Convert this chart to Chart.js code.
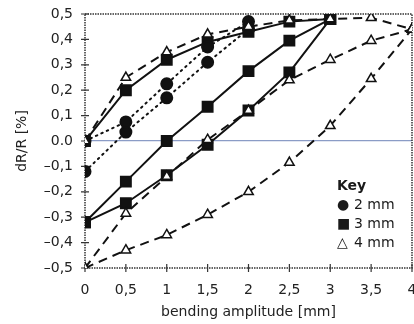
<!DOCTYPE html>
<html>
<head>
<meta charset="utf-8">
<script src="https://cdn.jsdelivr.net/npm/chart.js@4/dist/chart.umd.min.js"></script>
<style>
  html, body { margin: 0; padding: 0; background: #fff; overflow: hidden; }
  #wrap { position: relative; width: 414px; height: 324px; overflow: hidden; }
  #key { position: absolute; left: 337px; top: 176px; font: 14px "DejaVu Sans", sans-serif; color: #1a1a1a; line-height: 19px; }
  #key b { display: block; font-weight: bold; }
  #key span.s { display: inline-block; width: 17px; text-align: left; }
</style>
</head>
<body>
<div id="wrap">
  <canvas id="bendChart" width="421" height="324"></canvas>
  <div id="key">
    <b>Key</b>
    <div><span class="s">●</span>2 mm</div>
    <div><span class="s">■</span>3 mm</div>
    <div><span class="s">△</span>4 mm</div>
  </div>
</div>
<script>
// bending amplitude [mm]
var amp2 = [0, 0.5, 1, 1.5, 2];
var amp3 = [0, 0.5, 1, 1.5, 2, 2.5, 3];
var amp4 = [0, 0.5, 1, 1.5, 2, 2.5, 3, 3.5, 4];

// dR/R [%] for 2 mm
var r2_upper = [0, 0.075, 0.225, 0.37, 0.47];
var r2_lower = [-0.12, 0.035, 0.17, 0.31, 0.44];

// dR/R [%] for 3 mm
var r3_top = [0, 0.2, 0.32, 0.39, 0.43, 0.47, 0.48];
var r3_mid = [-0.32, -0.16, 0.0, 0.135, 0.275, 0.395, 0.48];
var r3_low = [-0.32, -0.245, -0.135, -0.015, 0.12, 0.27, 0.48];

// dR/R [%] for 4 mm
var r4_top = [0, 0.25, 0.35, 0.42, 0.45, 0.475, 0.48, 0.485, 0.44];
var r4_mid = [-0.5, -0.285, -0.14, 0.005, 0.12, 0.24, 0.32, 0.395, 0.44];
var r4_low = [-0.5, -0.43, -0.37, -0.29, -0.2, -0.085, 0.06, 0.245, 0.44];

var xTicks = [0, 0.5, 1, 1.5, 2, 2.5, 3, 3.5, 4];
var yTicks = [-0.5, -0.4, -0.3, -0.2, -0.1, 0, 0.1, 0.2, 0.3, 0.4, 0.5];

function pts(xs, ys) {
    return xs.map(function (x, i) { return { x: x, y: ys[i] }; });
}

function series2(ys) {
    return {
        data: pts(amp2, ys), showLine: true,
        borderColor: '#111', borderWidth: 2, borderDash: [1.5, 4.5], borderCapStyle: 'round',
        pointStyle: 'circle', pointRadius: 5.5, pointBackgroundColor: '#111', pointBorderColor: '#111'
    };
}
function series3(ys) {
    return {
        data: pts(amp3, ys), showLine: true,
        borderColor: '#111', borderWidth: 2,
        pointStyle: 'rect', pointRadius: 7, pointBackgroundColor: '#111', pointBorderColor: '#111'
    };
}
function series4(ys) {
    return {
        data: pts(amp4, ys), showLine: true,
        borderColor: '#111', borderWidth: 2, borderDash: [9, 6],
        pointStyle: 'triangle', pointRadius: 5.5, pointBackgroundColor: '#fff', pointBorderColor: '#111', pointBorderWidth: 1.5
    };
}

var fontTicks = { family: '"DejaVu Sans", sans-serif', size: 14 };

var frame = {
    id: 'frame',
    beforeDatasetsDraw: function (chart) {
        var c = chart.ctx, a = chart.chartArea;
        var xs = chart.scales.x, ys = chart.scales.y;
        c.save();
        c.strokeStyle = '#333';
        c.lineWidth = 1.5;
        c.setLineDash([1.5, 1]);
        c.strokeRect(a.left, a.top, a.right - a.left, a.bottom - a.top);
        c.setLineDash([]);
        c.lineWidth = 1.2;
        c.beginPath();
        xTicks.forEach(function (v) {
            var px = xs.getPixelForValue(v);
            c.moveTo(px, a.bottom - 4); c.lineTo(px, a.bottom + 4);
        });
        yTicks.forEach(function (v) {
            var py = ys.getPixelForValue(v);
            c.moveTo(a.left - 4, py); c.lineTo(a.left + 4, py);
        });
        c.stroke();
        c.restore();
    }
};

var ctx = document.getElementById('bendChart');
var bendChart = new Chart(ctx, {
    type: 'scatter',
    data: {
        datasets: [
            series4(r4_top), series4(r4_mid), series4(r4_low),
            series2(r2_upper), series2(r2_lower),
            series3(r3_top), series3(r3_mid), series3(r3_low)
        ]
    },
    options: {
        responsive: false,
        animation: false,
        layout: { padding: { left: 14, right: 2, top: 14, bottom: 0 } },
        plugins: { legend: { display: false }, tooltip: { enabled: false } },
        scales: {
            x: {
                type: 'linear', min: 0, max: 4,
                afterBuildTicks: function (s) { s.ticks = xTicks.map(function (v) { return { value: v }; }); },
                afterFit: function (s) { s.height = 56; s.paddingLeft = 0; s.paddingRight = 0; },
                ticks: {
                    padding: 14, color: '#222', font: fontTicks, maxRotation: 0,
                    callback: function (v) { return String(v).replace('.', ','); }
                },
                grid: { display: false, drawTicks: false },
                border: { display: false },
                title: { display: true, text: 'bending amplitude [mm]', color: '#222', font: fontTicks, padding: 3 }
            },
            y: {
                type: 'linear', min: -0.5, max: 0.5,
                afterBuildTicks: function (s) { s.ticks = yTicks.map(function (v) { return { value: v }; }); },
                afterFit: function (s) { s.width = 71; s.paddingTop = 0; s.paddingBottom = 0; },
                ticks: {
                    padding: 12, color: '#222', font: fontTicks,
                    callback: function (v) {
                        if (Math.abs(v) < 1e-9) return '0.0';
                        return v.toFixed(1).replace('.', ',').replace('-', '\u2013');
                    }
                },
                grid: {
                    drawTicks: false,
                    color: function (c) { return c.tick && Math.abs(c.tick.value) < 1e-9 ? '#8b9cc6' : 'rgba(0,0,0,0)'; },
                    lineWidth: 1.2
                },
                border: { display: false },
                title: { display: true, text: 'dR/R [%]', color: '#222', font: fontTicks, padding: 0 }
            }
        }
    },
    plugins: [frame]
});
</script>
</body>
</html>
